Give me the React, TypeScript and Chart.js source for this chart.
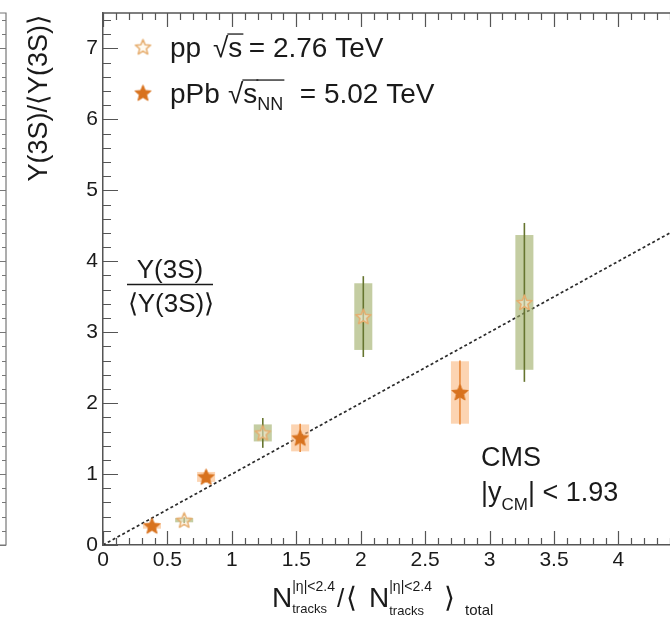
import React, { useEffect, useRef } from "react";
import { Chart, registerables } from "chart.js";
Chart.register(...registerables);

// ---- data ----
const ppX = [0.63, 1.24, 2.02, 3.27];
const ppY = [0.35, 1.58, 3.22, 3.42];
const ppStatErr = [0.04, 0.21, 0.57, 1.12];
const ppSysErr = [0.03, 0.12, 0.47, 0.95];

const pPbX = [0.38, 0.8, 1.53, 2.77];
const pPbY = [0.27, 0.96, 1.51, 2.15];
const pPbStatErr = [0.04, 0.08, 0.2, 0.45];
const pPbSysErr = [0.04, 0.07, 0.19, 0.44];

const fitX = [0, 4.4];
const fitY = [0, 4.4];

const xTickLabels = ["0", "0.5", "1", "1.5", "2", "2.5", "3", "3.5", "4"];
const yTickLabels = ["0", "1", "2", "3", "4", "5", "6", "7"];

const xMin = 0;
const xMax = 4.4;
const yMin = 0;
const yMax = 7.5;
const boxHalfWidth = 0.07;

// ---- styles ----
const FONT = '"Liberation Sans", Arial, Helvetica, sans-serif';
const TEXT = "#1a1a1a";
const AXIS = "#555";
const PP_STAR = "#e6ad6e";
const PP_BOX = "rgba(160,175,105,0.62)";
const PP_BAR = "#66752f";
const PPB_STAR = "#d8721e";
const PPB_BOX = "rgba(250,185,130,0.62)";
const PPB_BAR = "#e88a3c";

function makeStar(size: number, fill: string | null, stroke: string | null, lw: number) {
  const c = document.createElement("canvas");
  c.width = size;
  c.height = size;
  const ctx = c.getContext("2d")!;
  const cx = size / 2;
  const cy = size / 2 + 0.6;
  const R = size / 2 - lw;
  const r = R * 0.45;
  ctx.beginPath();
  for (let i = 0; i < 10; i++) {
    const a = -Math.PI / 2 + (i * Math.PI) / 5;
    const rad = i % 2 === 0 ? R : r;
    const px = cx + rad * Math.cos(a);
    const py = cy + rad * Math.sin(a);
    if (i === 0) ctx.moveTo(px, py);
    else ctx.lineTo(px, py);
  }
  ctx.closePath();
  if (fill) {
    ctx.fillStyle = fill;
    ctx.fill();
  }
  if (stroke) {
    ctx.strokeStyle = stroke;
    ctx.lineWidth = lw;
    ctx.lineJoin = "round";
    ctx.stroke();
  }
  return c;
}

type Seg = { t: string; size: number; x?: number; dy?: number; over?: boolean; stack?: boolean };

function drawRich(ctx: CanvasRenderingContext2D, x: number, y: number, segs: Seg[]) {
  let cx = x;
  let stackStart: number | null = null;
  let stackEnd = 0;
  for (const s of segs) {
    if (s.x !== undefined) cx = s.x;
    ctx.font = `${s.size}px ${FONT}`;
    const w = ctx.measureText(s.t).width;
    const by = y + (s.dy || 0);
    ctx.fillText(s.t, cx, by);
    if (s.over) {
      ctx.save();
      ctx.lineWidth = 1.3;
      ctx.strokeStyle = ctx.fillStyle as string;
      ctx.beginPath();
      const oy = y - 28 * 0.82;
      ctx.moveTo(cx - 1, oy);
      ctx.lineTo(cx + w + 1, oy);
      ctx.stroke();
      ctx.restore();
    }
    if (s.stack) {
      stackStart = cx;
      stackEnd = cx + w;
    } else if (stackStart !== null) {
      cx = Math.max(stackEnd, cx + w);
      stackStart = null;
    } else {
      cx += w;
    }
  }
  return cx;
}

const ppStarImg = makeStar(19, "rgba(255,245,225,0.5)", PP_STAR, 1.5);
const pPbStarImg = makeStar(19, PPB_STAR, PPB_STAR, 1);

const decorPlugin = {
  id: "decor",
  beforeDatasetDraw(chart: any, args: any) {
    if (args.index !== 1) return;
    const { ctx } = chart;
    const xs = chart.scales.x;
    const ys = chart.scales.y;
    const drawSet = (X: number[], Y: number[], stat: number[], sys: number[], boxC: string, barC: string) => {
      for (let i = 0; i < X.length; i++) {
        const x0 = xs.getPixelForValue(X[i] - boxHalfWidth);
        const x1 = xs.getPixelForValue(X[i] + boxHalfWidth);
        const y0 = ys.getPixelForValue(Y[i] + sys[i]);
        const y1 = ys.getPixelForValue(Y[i] - sys[i]);
        ctx.fillStyle = boxC;
        ctx.fillRect(x0, y0, x1 - x0, y1 - y0);
      }
      for (let i = 0; i < X.length; i++) {
        const px = xs.getPixelForValue(X[i]);
        ctx.strokeStyle = barC;
        ctx.lineWidth = 1.6;
        ctx.beginPath();
        ctx.moveTo(px, ys.getPixelForValue(Y[i] + stat[i]));
        ctx.lineTo(px, ys.getPixelForValue(Y[i] - stat[i]));
        ctx.stroke();
      }
    };
    ctx.save();
    drawSet(ppX, ppY, ppStatErr, ppSysErr, PP_BOX, PP_BAR);
    drawSet(pPbX, pPbY, pPbStatErr, pPbSysErr, PPB_BOX, PPB_BAR);
    ctx.restore();
  },
  afterDraw(chart: any) {
    const { ctx, chartArea } = chart;
    const xs = chart.scales.x;
    const ys = chart.scales.y;
    const { left, right, top, bottom } = chartArea;
    ctx.save();

    // frame top
    ctx.strokeStyle = AXIS;
    ctx.lineWidth = 1.5;
    ctx.beginPath();
    ctx.moveTo(left, top);
    ctx.lineTo(right, top);
    ctx.stroke();

    // inner ticks
    ctx.lineWidth = 1.2;
    ctx.beginPath();
    for (let i = 0; i * 0.2 <= yMax + 1e-6; i++) {
      const v = i * 0.2;
      const py = Math.round(ys.getPixelForValue(v)) + 0.5;
      const len = i % 5 === 0 ? 15 : 8;
      ctx.moveTo(left, py);
      ctx.lineTo(left + len, py);
    }
    for (let i = 0; i * 0.1 <= xMax + 1e-6; i++) {
      const v = i * 0.1;
      const px = Math.round(xs.getPixelForValue(v)) + 0.5;
      const len = i % 5 === 0 ? 14 : 7;
      ctx.moveTo(px, bottom);
      ctx.lineTo(px, bottom - len);
      ctx.moveTo(px, top);
      ctx.lineTo(px, top + len);
    }
    ctx.stroke();

    // neighbouring panel remnant on the far left
    ctx.strokeStyle = "#777";
    ctx.lineWidth = 1.2;
    ctx.beginPath();
    ctx.moveTo(0, top);
    ctx.lineTo(6, top);
    ctx.lineTo(6, bottom);
    ctx.lineTo(0, bottom);
    for (let i = 0; i * 0.2 <= yMax + 1e-6; i++) {
      const py = Math.round(ys.getPixelForValue(i * 0.2)) + 0.5;
      ctx.moveTo(6, py);
      ctx.lineTo(i % 5 === 0 ? 0 : 2, py);
    }
    ctx.stroke();

    ctx.fillStyle = TEXT;
    ctx.textBaseline = "alphabetic";
    ctx.textAlign = "left";

    // legend
    ctx.drawImage(ppStarImg, 143 - 9.5, 47 - 9.5);
    ctx.drawImage(pPbStarImg, 143 - 9.5, 93 - 9.5);
    drawRich(ctx, 170, 57, [
      { t: "pp", size: 28 },
      { t: "√", size: 28, x: 213 },
      { t: "s", size: 28, over: true },
      { t: " = 2.76 TeV", size: 28, x: 241 },
    ]);
    drawRich(ctx, 170, 103, [
      { t: "pPb", size: 28 },
      { t: "√", size: 28, x: 228 },
      { t: "s", size: 28, over: true },
      { t: "NN", size: 18, dy: 7, over: true },
      { t: " = 5.02 TeV", size: 28, x: 292 },
    ]);

    // fraction annotation
    ctx.textAlign = "center";
    ctx.font = `26px ${FONT}`;
    ctx.fillText("Υ(3S)", 170, 278);
    ctx.fillText("⟨Υ(3S)⟩", 171, 312);
    ctx.strokeStyle = TEXT;
    ctx.lineWidth = 1.5;
    ctx.beginPath();
    ctx.moveTo(127, 284.5);
    ctx.lineTo(213, 284.5);
    ctx.stroke();

    // CMS label
    ctx.textAlign = "left";
    ctx.font = `27px ${FONT}`;
    ctx.fillText("CMS", 481, 466);
    drawRich(ctx, 481, 501, [
      { t: "|y", size: 27 },
      { t: "CM", size: 17, dy: 9 },
      { t: "| < 1.93", size: 27 },
    ]);

    // y axis title
    ctx.save();
    ctx.translate(40, 14);
    ctx.rotate(-Math.PI / 2);
    ctx.textAlign = "right";
    ctx.textBaseline = "middle";
    ctx.font = `27px ${FONT}`;
    ctx.fillText("Υ(3S)/⟨Υ(3S)⟩", 0, 0);
    ctx.restore();

    // x axis title
    ctx.textAlign = "left";
    drawRich(ctx, 272, 607, [
      { t: "N", size: 28 },
      { t: "|η|<2.4", size: 14, dy: -16, stack: true },
      { t: "tracks", size: 13, dy: 6 },
      { t: "/", size: 26, x: 337 },
      { t: "⟨", size: 28, x: 346 },
      { t: "N", size: 28, x: 369 },
      { t: "|η|<2.4", size: 14, dy: -16, stack: true },
      { t: "tracks", size: 13, dy: 8 },
      { t: "⟩", size: 28, x: 444 },
      { t: "total", size: 15, x: 465, dy: 8 },
    ]);
    ctx.restore();
  },
};

export default function App() {
  const ref = useRef<HTMLCanvasElement | null>(null);
  useEffect(() => {
    document.body.style.margin = "0";
    document.body.style.overflow = "hidden";
    const canvas = ref.current!;
    const tickFont = { family: FONT, size: 21 };
    const chart = new Chart(canvas, {
      type: "scatter",
      data: {
        datasets: [
          {
            label: "pp √s = 2.76 TeV",
            data: ppX.map((x, i) => ({ x, y: ppY[i] })),
            pointStyle: ppStarImg as any,
            pointRadius: 9,
            order: 1,
          },
          {
            label: "pPb √sNN = 5.02 TeV",
            data: pPbX.map((x, i) => ({ x, y: pPbY[i] })),
            pointStyle: pPbStarImg as any,
            pointRadius: 9,
            order: 2,
          },
          {
            label: "fit",
            type: "line",
            data: fitX.map((x, i) => ({ x, y: fitY[i] })),
            showLine: true,
            borderColor: "#2a2a2a",
            borderWidth: 1.7,
            borderDash: [3, 2.5],
            pointRadius: 0,
            fill: false,
            order: 3,
          } as any,
        ],
      },
      options: {
        animation: false,
        responsive: false,
        events: [],
        layout: { autoPadding: false, padding: { top: 13, left: 0, right: 0, bottom: 0 } },
        plugins: { legend: { display: false }, tooltip: { enabled: false } },
        scales: {
          x: {
            type: "linear",
            min: xMin,
            max: xMax,
            grid: { display: false, drawTicks: false },
            border: { display: true, color: AXIS, width: 1.5 },
            ticks: {
              autoSkip: false,
              maxRotation: 0,
              padding: 3,
              color: TEXT,
              font: tickFont,
              callback: (v: any) => {
                const s = String(Math.round(Number(v) * 10) / 10);
                return xTickLabels.includes(s) ? s : "";
              },
            },
            afterBuildTicks: (s: any) => {
              s.ticks = xTickLabels.map((t) => ({ value: Number(t) }));
            },
            afterFit: (s: any) => {
              s.height = 74;
              s.paddingLeft = 0;
              s.paddingRight = 0;
            },
          },
          y: {
            type: "linear",
            min: yMin,
            max: yMax,
            grid: { display: false, drawTicks: false },
            border: { display: true, color: AXIS, width: 1.5 },
            ticks: {
              autoSkip: false,
              padding: 5,
              color: TEXT,
              font: tickFont,
              callback: (v: any) => {
                const s = String(Math.round(Number(v) * 10) / 10);
                return yTickLabels.includes(s) ? s : "";
              },
            },
            afterBuildTicks: (s: any) => {
              s.ticks = yTickLabels.map((t) => ({ value: Number(t) }));
            },
            afterFit: (s: any) => {
              s.width = 103;
              s.paddingTop = 0;
              s.paddingBottom = 0;
            },
          },
        },
      },
      plugins: [decorPlugin],
    });
    return () => chart.destroy();
  }, []);
  return (
    <div style={{ width: 670, height: 619, overflow: "hidden" }}>
      <canvas ref={ref} width={670} height={619} style={{ display: "block" }} />
    </div>
  );
}
